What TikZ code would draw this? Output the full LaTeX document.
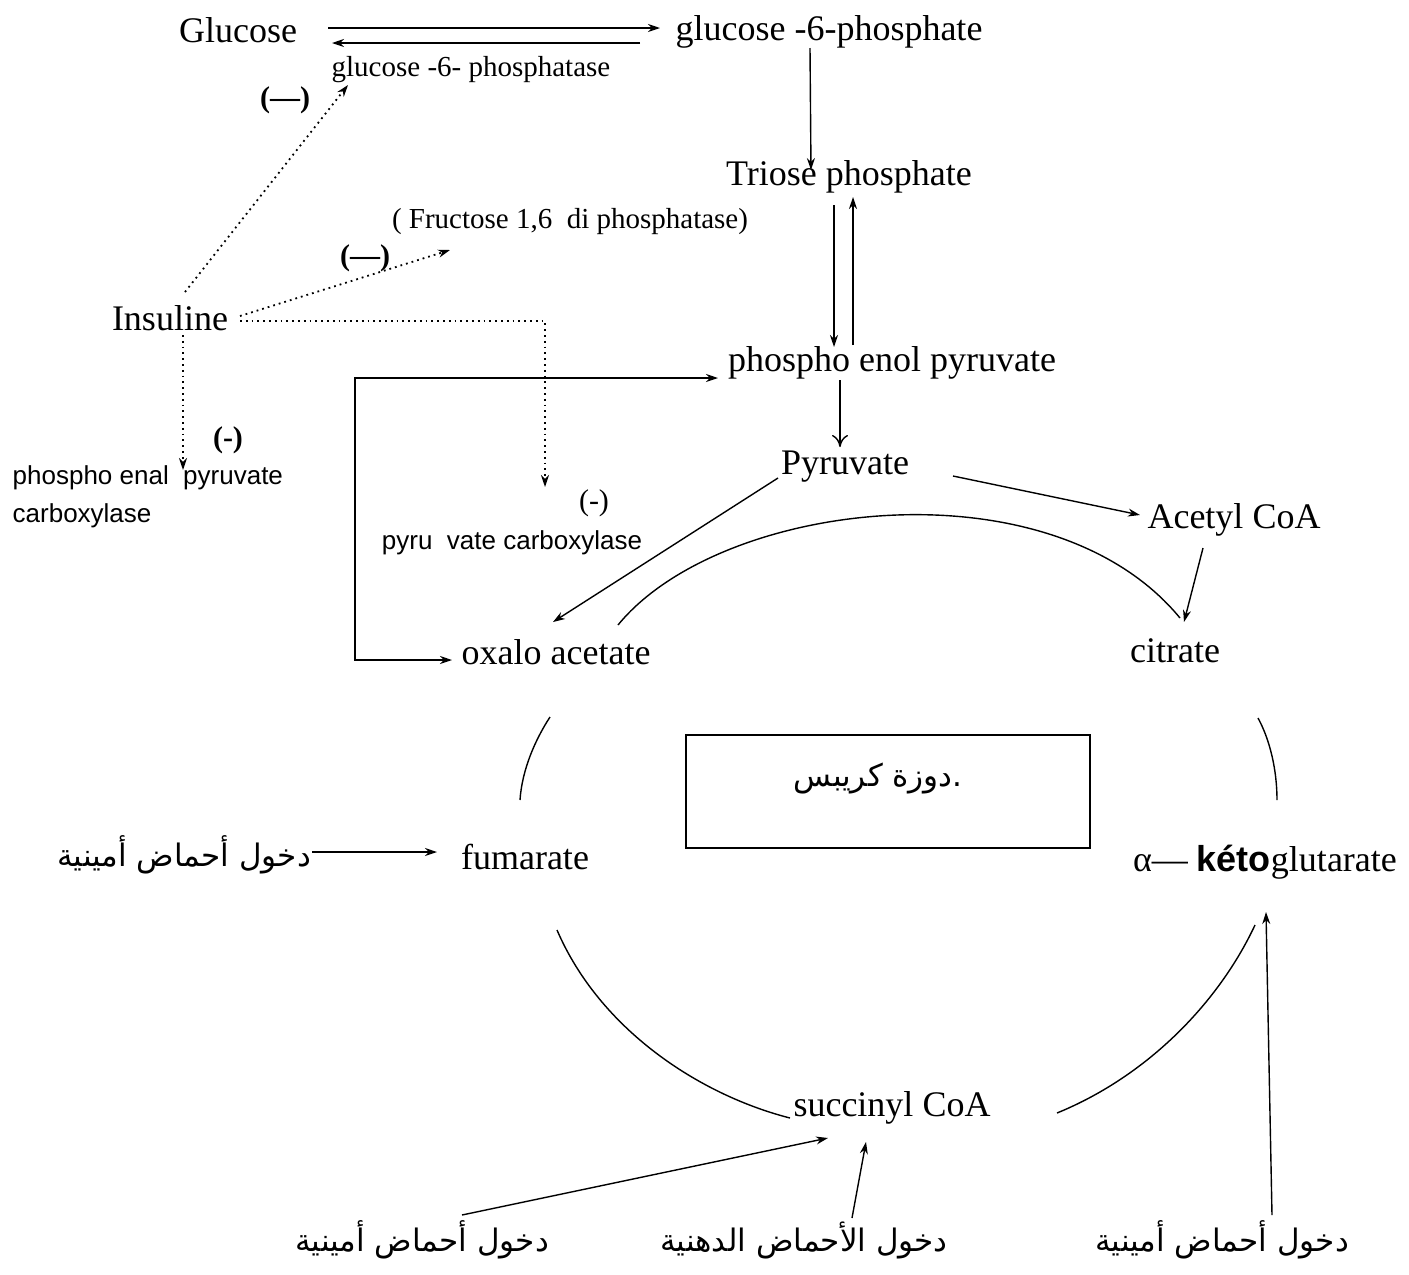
\documentclass[tikz,border=0pt]{standalone}
\usepackage{fontspec}
\setmainfont{Liberation Serif}
\newfontfamily\sansfont{Liberation Sans}
\newfontfamily\arabicfont[Script=Arabic]{DejaVu Sans}
\TeXXeTstate=1
\usetikzlibrary{arrows.meta}

\begin{document}
\begin{tikzpicture}  % ------ neoglucogenese et cycle de Krebs -------------------
      [x=0.5pt,y=-0.5pt, line width=0.7pt,
       every node/.style={inner sep=0pt},
       grand/.style={font=\fontsize{18}{20}\selectfont},
       petit/.style={font=\fontsize{14.5}{16}\selectfont},
       sanslbl/.style={font=\sansfont\fontsize{13}{19}\selectfont},
       arab/.style={font=\arabicfont\fontsize{15.5}{17}\selectfont},
       moins/.style={font=\bfseries\fontsize{15}{16}\selectfont},
       fl/.style={-{Stealth[length=6pt,width=4pt]}},
       pointille/.style={dotted, line width=0.9pt, -{Stealth[length=6pt,width=4pt]}}]

    \useasboundingbox (0,0) rectangle (1409,1275);

    % les noeuds
    \node[grand] (glu) at (238,30) {Glucose};
    \node[grand] (g6p) at (829,32) {glucose -6-phosphate};
    \node[petit] (g6pase) at (471,70) {glucose -6- phosphatase};
    \node[grand] (tp) at (849,177) {Triose phosphate};
    \node[petit] (fdp) at (570,222) {( Fructose 1,6~ di phosphatase)};
    \node[grand] (ins) at (170,318) {Insuline};
    \node[sanslbl, align=left, anchor=north west] (pepck) at (12,465) {phospho enal~ pyruvate\\carboxylase};
    \node[sanslbl] (pc) at (512,543) {pyru~~vate carboxylase};
    \node[grand] (pep) at (892,363) {phospho enol pyruvate};
    \node[grand] (pyr) at (845,467) {Pyruvate};
    \node[grand] (acoa) at (1234,520) {Acetyl CoA};
    \node[grand] (oaa) at (556,652) {oxalo acetate};
    \node[grand] (cit) at (1175,651) {citrate};
    \node[grand] (fum) at (525,857) {fumarate};
    \node[grand] (akg) at (1265,862) {α— {\sansfont\bfseries kéto}glutarate};
    \node[grand] (sca) at (892,1108) {succinyl CoA};
    \node[arab] (krebs) at (878,778) {\beginR .دوزة كريبس\endR};
    \node[arab] (aa1) at (184,855) {\beginR دخول أحماض أمينية\endR};
    \node[arab] (aa2) at (422,1240) {\beginR دخول أحماض أمينية\endR};
    \node[arab] (ag) at (804,1240) {\beginR دخول الأحماض الدهنية\endR};
    \node[arab] (aa3) at (1222,1240) {\beginR دخول أحماض أمينية\endR};

    \node[moins] (m1) at (285,100) {(—)};
    \node[moins] (m2) at (365,258) {(—)};
    \node[moins] (m3) at (228,440) {(-)};
    \node[font=\fontsize{15}{16}\selectfont] (m4) at (594,503) {(-)};

    % cadre du cycle
    \draw (686,735) rectangle (1090,848);

    % glycolyse / neoglucogenese
    \draw[fl] ([shift={(90,-2)}]glu.center) -- ([shift={(-169,-4)}]g6p.center);
    \draw[fl] ([shift={(-189,11)}]g6p.center) -- ([shift={(94,13)}]glu.center);
    \draw[fl] ([shift={(-19,16)}]g6p.center) -- ([shift={(-38,-7)}]tp.center);
    \draw[fl] ([shift={(-15,28)}]tp.center) -- ([shift={(-58,-16)}]pep.center);
    \draw[fl] ([shift={(-39,-18)}]pep.center) -- ([shift={(4,20)}]tp.center);
    \draw[-{To[length=6pt,width=8pt]}] ([shift={(-52,17)}]pep.center) -- ([shift={(-5,-20)}]pyr.center);
    \draw[fl] ([shift={(-67,11)}]pyr.center) -- ([shift={(-3,-30)}]oaa.center);
    \draw[fl] ([shift={(108,9)}]pyr.center) -- ([shift={(-94,-5)}]acoa.center);
    \draw[fl] ([shift={(-31,28)}]acoa.center) -- ([shift={(9,-29)}]cit.center);

    % oxalo acetate <-> PEP
    \coordinate (coin1) at (355,378);
    \coordinate (coin2) at (355,660);
    \draw[{Stealth[length=6pt,width=4pt]}-{Stealth[length=6pt,width=4pt]}]
        ([shift={(-174,15)}]pep.center) -- (coin1) -- (coin2) -- ([shift={(-104,8)}]oaa.center);

    % insuline (-)
    \draw[pointille] ([shift={(15,-26)}]ins.center) -- ([shift={(-123,15)}]g6pase.center);
    \draw[pointille] ([shift={(70,-2)}]ins.center) -- ([shift={(-120,28)}]fdp.center);
    \draw[pointille] ([shift={(70,3)}]ins.center) -| ([shift={(33,-56)}]pc.center);
    \draw[pointille] ([shift={(13,17)}]ins.center) -- ([shift={(171,5)}]pepck.north west);

    % cycle de Krebs
    \draw ([shift={(62,-27)}]oaa.center) .. controls (720,500) and (1050,460) .. ([shift={(5,-33)}]cit.center);
    \draw (550,717) .. controls (535,740) and (522,770) .. (520,800);
    \draw (1258,718) .. controls (1270,740) and (1277,770) .. (1277,800);
    \draw (557,930) .. controls (600,1030) and (700,1095) .. ([shift={(-102,10)}]sca.center);
    \draw ([shift={(165,5)}]sca.center) .. controls (1150,1075) and (1220,1000) .. (1255,925);

    % entrees
    \draw[fl] ([shift={(128,-3)}]aa1.center) -- ([shift={(-88,-5)}]fum.center);
    \draw[fl] ([shift={(40,-25)}]aa2.center) -- ([shift={(-64,30)}]sca.center);
    \draw[fl] ([shift={(48,-22)}]ag.center) -- ([shift={(-26,34)}]sca.center);
    \draw[fl] ([shift={(50,-25)}]aa3.center) -- ([shift={(1,50)}]akg.center);
\end{tikzpicture}
\end{document}
